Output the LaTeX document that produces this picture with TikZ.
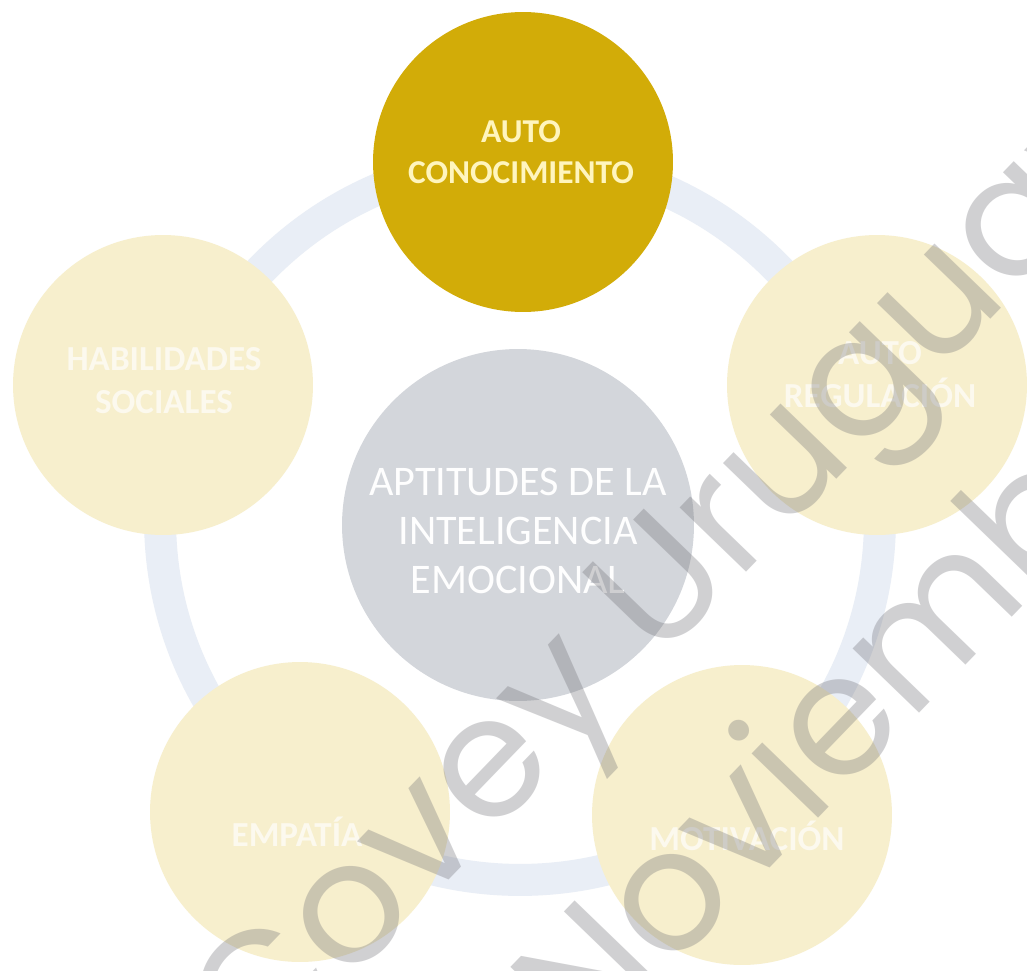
\documentclass[tikz,border=0pt]{standalone}
\usepackage{fontspec}
\setmainfont{Carlito}
\newfontfamily\marcafont{Poppins}

\definecolor{oro}{RGB}{210,172,8}
\definecolor{crema}{RGB}{247,239,205}
\definecolor{gris}{RGB}{211,214,219}
\definecolor{anillo}{RGB}{233,238,246}
\definecolor{textooro}{RGB}{255,245,190}
\definecolor{textocrema}{RGB}{252,249,238}
\definecolor{marca}{RGB}{110,110,116}

\begin{document}
\begin{tikzpicture}[x=0.02cm, y=-0.02cm,
    aptitud/.style={circle, fill=crema, minimum size=6cm, inner sep=0pt},
    txtaptitud/.style={align=center, inner sep=0pt, text=textocrema,
      font=\bfseries\fontsize{20}{24.5}\selectfont},
    marcaagua/.style={anchor=base west, rotate=46, inner sep=0pt, text=marca,
      text opacity=0.32, font=\marcafont\fontsize{96}{96}\selectfont}]
    \useasboundingbox (0,0) rectangle (1027,970);
    \clip (0,0) rectangle (1027,970);
    \fill[white] (0,0) rectangle (1027,970);

    % anillo de fondo
    \draw[anillo, line width=0.64cm] (520,520) circle (7.2cm);

    % centro
    \node[circle, fill=gris, minimum size=7.04cm, inner sep=0pt] (ie) at (518,525) {};
    \node[align=center, inner sep=0pt, text=white!97!gris,
      font=\fontsize{24}{28}\selectfont] (ie-t) at (518,531)
      {APTITUDES DE LA\\INTELIGENCIA\\EMOCIONAL};

    % las cinco aptitudes
    \node[aptitud, fill=oro] (auto) at (523,162) {};
    \node[txtaptitud, text=textooro, font=\bfseries\fontsize{19}{23}\selectfont]
      (auto-t) at (521,152) {AUTO\\CONOCIMIENTO};

    \node[aptitud] (reg) at (877,385) {};
    \node[txtaptitud] (reg-t) at (880,375) {AUTO\\REGULACIÓN};

    \node[aptitud] (mot) at (742,815) {};
    \node[txtaptitud] (mot-t) at (747,836) {MOTIVACIÓN};

    \node[aptitud] (emp) at (300,812) {};
    \node[txtaptitud] (emp-t) at (297,832) {EMPATÍA};

    \node[aptitud] (hab) at (163,385) {};
    \node[txtaptitud] (hab-t) at (164,381) {HABILIDADES\\SOCIALES};

    % marca de agua
    \node[marcaagua] (wm1) at (257,1079) {Covey Uruguay};
    \node[marcaagua] (wm2) at (586,1059) {Noviembre};
\end{tikzpicture}
\end{document}
